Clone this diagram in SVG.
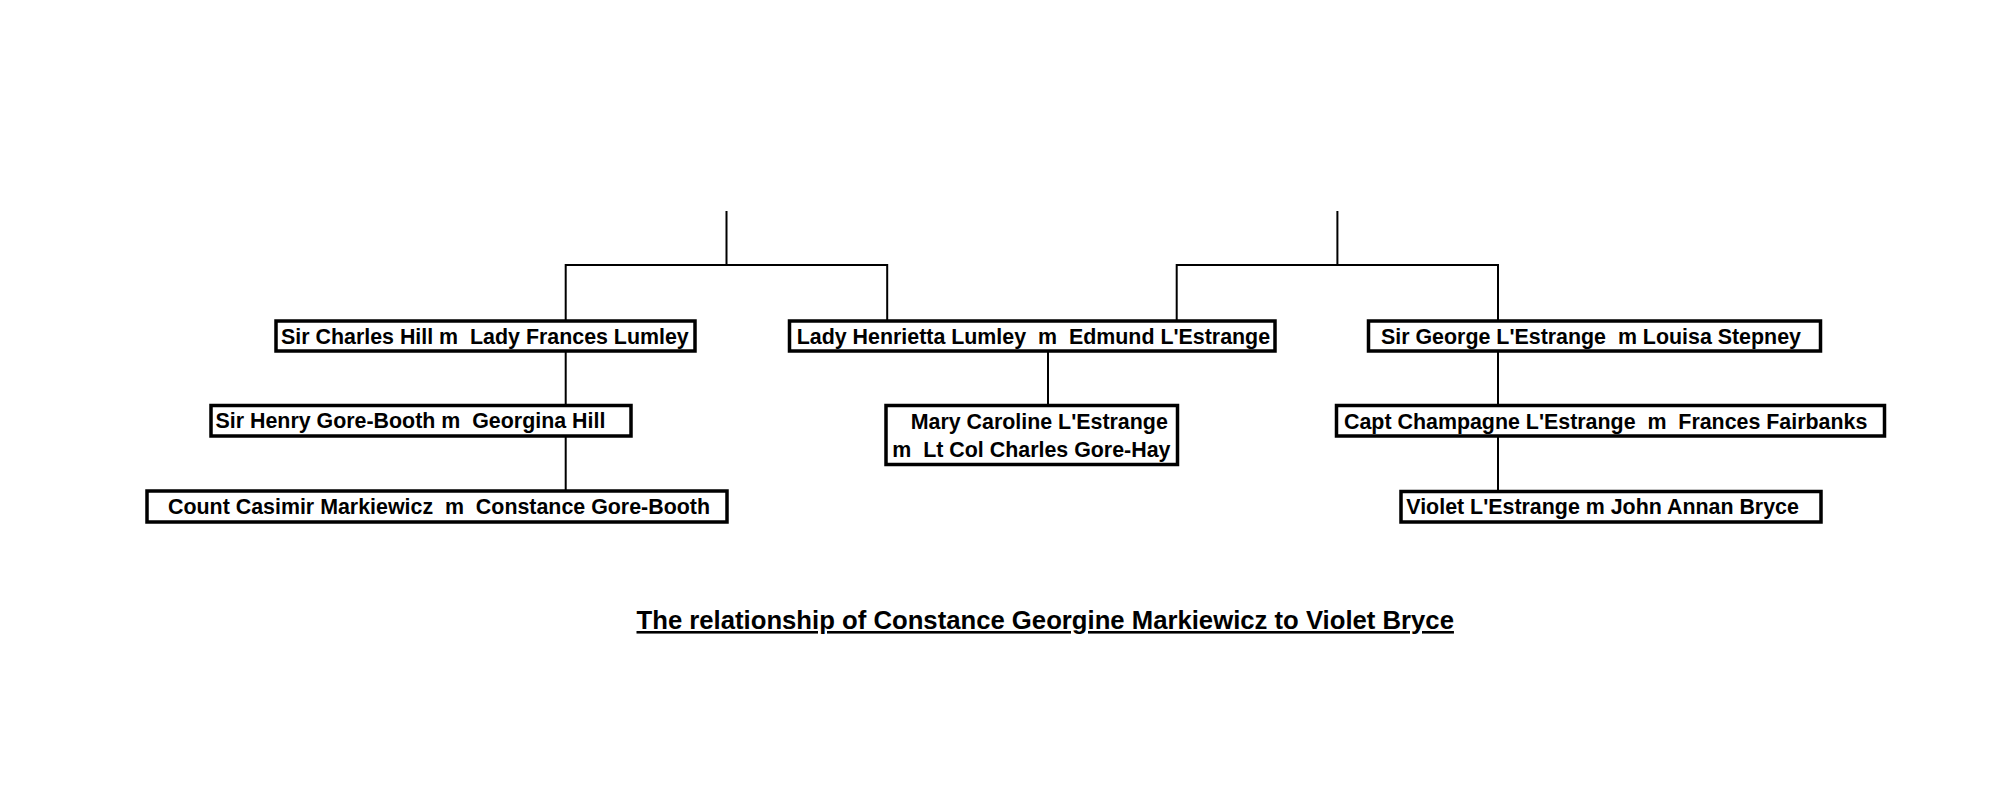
<svg xmlns="http://www.w3.org/2000/svg" width="2000" height="792" viewBox="0 0 2000 792">
<style>
.box{fill:#fff;stroke:#000;stroke-width:3.5}
.lbl{font-family:"Liberation Sans",Arial,sans-serif;font-weight:bold;font-size:21.4px;fill:#000;white-space:pre}
.title{font-family:"Liberation Sans",Arial,sans-serif;font-weight:bold;font-size:25.7px;fill:#000;text-decoration:underline}
.conn{fill:none;stroke:#000;stroke-width:2}
</style>
<rect width="2000" height="792" fill="#fff"/>
<g id="connectors" class="conn">
<path d="M726.5,211 V265 M565.7,320 V265 H887.2 V320"/>
<path d="M565.7,351 V405 M565.7,436 V491"/>
<path d="M1048,351 V405"/>
<path d="M1337.4,211 V265 M1176.7,320 V265 H1498 V320"/>
<path d="M1498,351 V405 M1498,436 V491"/>
</g>
<g id="charles-hill">
<rect class="box" x="276" y="321" width="419" height="30"/>
<text class="lbl" x="281" y="344" xml:space="preserve">Sir Charles Hill m  Lady Frances Lumley</text>
</g>
<g id="henry-gore-booth">
<rect class="box" x="211" y="405.5" width="420" height="30.5"/>
<text class="lbl" x="215.5" y="428" xml:space="preserve">Sir Henry Gore-Booth m  Georgina Hill</text>
</g>
<g id="casimir-markiewicz">
<rect class="box" x="147" y="491" width="580" height="31"/>
<text class="lbl" x="168" y="514" xml:space="preserve">Count Casimir Markiewicz  m  Constance Gore-Booth</text>
</g>
<g id="henrietta-lumley">
<rect class="box" x="789.5" y="321" width="485.5" height="30"/>
<text class="lbl" x="796.7" y="344" xml:space="preserve">Lady Henrietta Lumley  m  Edmund L'Estrange</text>
</g>
<g id="mary-caroline">
<rect class="box" x="886" y="405.5" width="291.5" height="59"/>
<text class="lbl" x="910.7" y="428.5" xml:space="preserve">Mary Caroline L'Estrange</text>
<text class="lbl" x="892.3" y="456.5" xml:space="preserve">m  Lt Col Charles Gore-Hay</text>
</g>
<g id="george-lestrange">
<rect class="box" x="1368.5" y="321" width="452" height="30"/>
<text class="lbl" x="1381" y="344" xml:space="preserve">Sir George L'Estrange  m Louisa Stepney</text>
</g>
<g id="champagne-lestrange">
<rect class="box" x="1336.5" y="405.5" width="548" height="30.5"/>
<text class="lbl" x="1344" y="428.5" xml:space="preserve">Capt Champagne L'Estrange  m  Frances Fairbanks</text>
</g>
<g id="violet-lestrange">
<rect class="box" x="1401" y="491.5" width="420" height="30.5"/>
<text class="lbl" x="1406.3" y="514" xml:space="preserve">Violet L'Estrange m John Annan Bryce</text>
</g>
<g id="title">
<text class="title" x="636.5" y="629">The relationship of Constance Georgine Markiewicz to Violet Bryce</text>
</g>
</svg>
